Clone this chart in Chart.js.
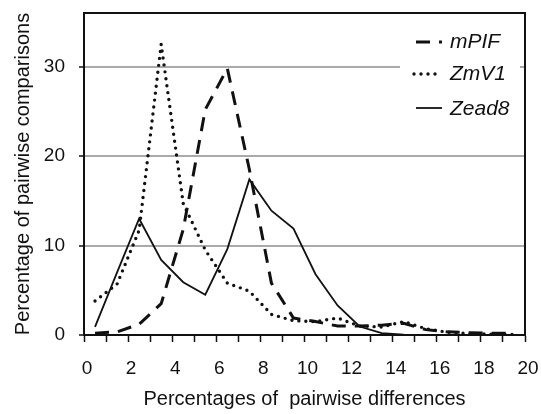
<!DOCTYPE html>
<html>
<head>
<meta charset="utf-8">
<script src="https://cdn.jsdelivr.net/npm/chart.js@4.4.1/dist/chart.umd.min.js"></script>
<style>
  html, body { margin: 0; padding: 0; background: #fff; }
  #wrap { width: 541px; height: 414px; }
</style>
</head>
<body>
<div id="wrap"><canvas id="chart" width="541" height="414"></canvas></div>
<script>
// class midpoints (percent pairwise difference)
const xValues = [0.5, 1.5, 2.5, 3.5, 4.5, 5.5, 6.5, 7.5, 8.5, 9.5, 10.5, 11.5, 12.5, 13.5, 14.5, 15.5, 16.5, 17.5, 18.5, 19.5];
const mPIF  = [0.2, 0.35, 1.2, 3.5, 11.8, 25.2, 29.8, 18.5, 5.8, 1.9, 1.5, 1.0, 1.0, 1.1, 1.3, 0.6, 0.35, 0.25, 0.2, 0.2];
const ZmV1  = [3.8, 5.7, 11.7, 32.5, 14.7, 9.5, 5.8, 4.9, 2.3, 1.6, 1.5, 1.9, 1.0, 0.9, 1.5, 0.7, 0.3, 0.15, 0.1, 0.05];
const Zead8 = [0.9, 7.0, 13.0, 8.4, 5.9, 4.5, 9.6, 17.4, 13.9, 11.9, 6.8, 3.3, 0.95, 0.2, 0.05, 0, 0, 0, 0, 0];
const seriesNames = ['mPIF', 'ZmV1', 'Zead8'];
const xTicks = [0, 1, 2, 3, 4, 5, 6, 7, 8, 9, 10, 11, 12, 13, 14, 15, 16, 17, 18, 19, 20];
const yTicks = [0, 10, 20, 30];

const FONT = '"Liberation Sans", Arial, Helvetica, sans-serif';

const dashStyles = [
  { borderDash: [14, 9], borderWidth: 3, borderCapStyle: 'butt' },
  { borderDash: [0, 7], borderWidth: 3.4, borderCapStyle: 'round' },
  { borderDash: [], borderWidth: 1.8, borderCapStyle: 'butt' }
];

function toPoints(arr) {
  return arr.map((v, i) => ({ x: xValues[i], y: v }));
}

// frame around plot area
const frame = {
  id: 'frame',
  afterDatasetsDraw(chart) {
    const { ctx, chartArea: a } = chart;
    ctx.save();
    ctx.strokeStyle = '#111';
    ctx.lineWidth = 2;
    ctx.strokeRect(a.left, a.top, a.right - a.left, a.bottom - a.top);
    ctx.restore();
  }
};

// legend drawn inside the plot, white box over the gridline
const insideLegend = {
  id: 'insideLegend',
  afterDraw(chart) {
    const { ctx, chartArea: a } = chart;
    const boxLeft = a.right - 125;
    ctx.save();
    ctx.fillStyle = '#fff';
    ctx.fillRect(boxLeft, a.top + 10, 120, 110);
    const baselines = [48, 80, 115];
    const lineY = [42, 74, 108];
    seriesNames.forEach((name, i) => {
      const st = dashStyles[i];
      ctx.beginPath();
      ctx.strokeStyle = '#111';
      ctx.lineWidth = st.borderWidth;
      ctx.lineCap = st.borderCapStyle;
      ctx.setLineDash(st.borderDash);
      const x0 = i === 1 ? boxLeft + 14 : boxLeft + 16;
      const x1 = i === 1 ? boxLeft + 36 : boxLeft + 42;
      ctx.moveTo(x0, lineY[i]);
      ctx.lineTo(x1, lineY[i]);
      ctx.stroke();
      ctx.setLineDash([]);
      ctx.fillStyle = '#111';
      ctx.font = 'italic 21px ' + FONT;
      ctx.textBaseline = 'alphabetic';
      ctx.textAlign = 'left';
      ctx.fillText(name, boxLeft + 50, baselines[i]);
    });
    ctx.restore();
  }
};

const datasets = [mPIF, ZmV1, Zead8].map((arr, i) => Object.assign({
  label: seriesNames[i],
  data: toPoints(arr),
  borderColor: '#111',
  backgroundColor: '#111',
  pointRadius: 0,
  tension: 0,
  fill: false
}, dashStyles[i]));

new Chart(document.getElementById('chart'), {
  type: 'line',
  data: { datasets },
  options: {
    responsive: false,
    animation: false,
    layout: { padding: { left: 0, right: 16, top: 13, bottom: 0 } },
    plugins: { legend: { display: false }, tooltip: { enabled: false } },
    scales: {
      x: {
        type: 'linear',
        min: 0,
        max: 20,
        afterBuildTicks: s => { s.ticks = xTicks.map(v => ({ value: v })); },
        afterFit: s => { s.height = 79; s.paddingLeft = 0; s.paddingRight = 0; },
        grid: { drawOnChartArea: false, drawTicks: true, tickLength: 7, tickColor: '#111', tickWidth: 1.5 },
        border: { display: true, color: '#111', width: 2 },
        ticks: {
          autoSkip: false,
          maxRotation: 0,
          padding: 15,
          labelOffset: 3,
          color: '#111',
          font: { family: FONT, size: 19 },
          callback: v => (v % 2 === 0 ? String(v) : '')
        },
        title: {
          display: true,
          text: 'Percentages of  pairwise differences',
          color: '#111',
          font: { family: FONT, size: 20 },
          padding: { top: 0, bottom: 3 }
        }
      },
      y: {
        min: 0,
        max: 36,
        afterBuildTicks: s => { s.ticks = yTicks.map(v => ({ value: v })); },
        afterFit: s => { s.width = 84; s.paddingTop = 0; s.paddingBottom = 0; },
        grid: {
          color: ctx => (ctx.tick && ctx.tick.value === 0 ? 'rgba(0,0,0,0)' : '#aaa'),
          lineWidth: 2,
          drawTicks: true,
          tickLength: 5,
          tickColor: '#111',
          tickWidth: 1.5
        },
        border: { display: true, color: '#111', width: 2 },
        ticks: {
          padding: 14,
          color: '#111',
          font: { family: FONT, size: 19 }
        },
        title: {
          display: true,
          text: 'Percentage of pairwise comparisons',
          color: '#111',
          font: { family: FONT, size: 20 },
          padding: { top: 11, bottom: 0 }
        }
      }
    }
  },
  plugins: [frame, insideLegend]
});
</script>
</body>
</html>
